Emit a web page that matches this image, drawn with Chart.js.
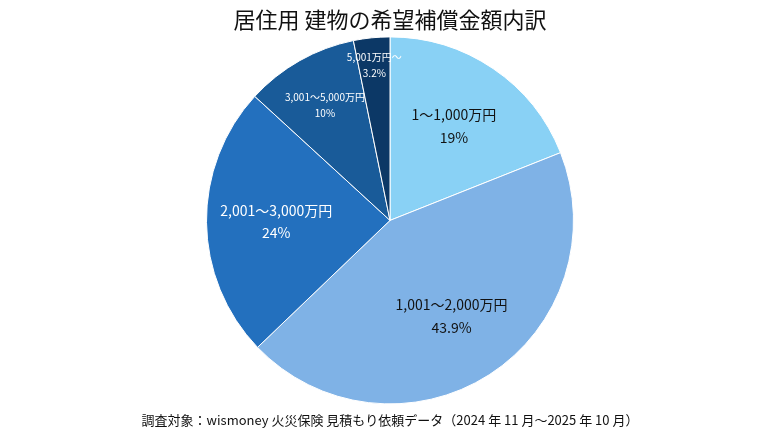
<!DOCTYPE html>
<html><head><meta charset="utf-8">
<script src="https://cdn.jsdelivr.net/npm/chart.js@4"></script>
<style>html,body{margin:0;background:#fff}#w{width:780px;height:438px}</style>
</head><body><div id="w"><canvas id="c"></canvas></div>
<script>
const categories=["1～1,000万円","1,001～2,000万円","2,001～3,000万円","3,001～5,000万円","5,001万円～"];
const values=[19,43.9,24,10,3.2];
const valueLabels=["19%","43.9%","24%","10%","3.2%"];
const colors=["#89d1f5","#7fb2e6","#2370be","#195b99","#0c3866"];
const textColors=["#111","#111","#fff","#fff","#fff"];
const fontSizes=[14,14,14,10,10];
const radial=[0.62,0.62,0.62,0.72,0.85];
const labelPlugin={id:'lbl',afterDatasetsDraw(chart){
 const ctx=chart.ctx;const meta=chart.getDatasetMeta(0);
 meta.data.forEach((arc,i)=>{
  const a=(arc.startAngle+arc.endAngle)/2;const r=arc.outerRadius*radial[i];
  const x=arc.x+Math.cos(a)*r,y=arc.y+Math.sin(a)*r;
  ctx.save();ctx.fillStyle=textColors[i];ctx.textAlign='center';ctx.textBaseline='middle';
  ctx.font=fontSizes[i]+'px "Noto Sans CJK JP"';
  const lh=fontSizes[i]*1.6;
  ctx.fillText(categories[i],x,y-lh/2);ctx.fillText(valueLabels[i],x,y+lh/2);ctx.restore();
 });}};
new Chart(document.getElementById('c'),{type:'pie',
 data:{labels:categories,datasets:[{data:values,backgroundColor:colors,borderColor:'#fff',borderWidth:1}]},
 options:{responsive:true,maintainAspectRatio:false,animation:false,
  layout:{padding:{top:0,bottom:4}},
  plugins:{legend:{display:false},tooltip:{enabled:false},
   title:{display:true,text:'居住用 建物の希望補償金額内訳',color:'#111',font:{size:22,family:'"Noto Sans CJK JP"',weight:'normal'},padding:{top:6,bottom:4}},
   subtitle:{display:true,position:'bottom',text:'調査対象：wismoney 火災保険 見積もり依頼データ（2024 年 11 月～2025 年 10 月）',color:'#111',font:{size:13,family:'"Noto Sans CJK JP"'},padding:{top:8,bottom:6}}}},
 plugins:[labelPlugin]});
</script></body></html>
